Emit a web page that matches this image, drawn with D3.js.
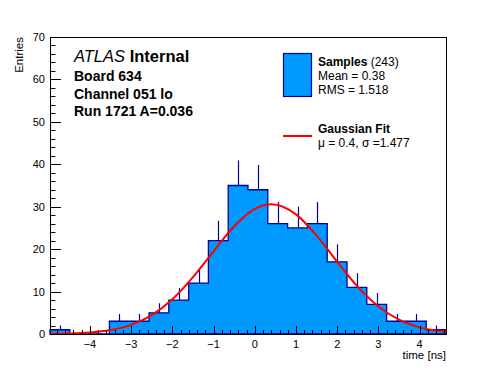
<!DOCTYPE html>
<html>
<head>
<meta charset="utf-8">
<script src="https://d3js.org/d3.v7.min.js"></script>
<style>
  body { margin: 0; background: #fff; }
  svg text { font-family: "Liberation Sans", Arial, Helvetica, sans-serif; }
  .lbl { font-size: 11px; }
  .info { font-size: 14px; font-weight: bold; }
  .leg { font-size: 12px; }
</style>
</head>
<body>
<div id="chart"></div>
<script>
// histogram: 20 bins between histMin and histMax
var histMin = -4.97, histMax = 4.64;
var counts = [1, 0, 0, 3, 3, 5, 8, 12, 22, 35, 34, 26, 25, 26, 17, 11, 7, 3, 3, 1];

// gaussian fit curve
var fitX = [-4.97, -4.5, -4, -3.5, -3, -2.5, -2, -1.5, -1, -0.5, 0, 0.4, 1, 1.5, 2, 2.5, 3, 3.5, 4, 4.64];
var fitY = [0.04, 0.12, 0.36, 0.94, 2.16, 4.45, 8.17, 13.4, 19.5, 25.4, 29.5, 30.6, 28.2, 23.2, 17.0, 11.1, 6.5, 3.38, 1.57, 0.5];

var xTicks = [-4, -3, -2, -1, 0, 1, 2, 3, 4];
var yTicks = [0, 10, 20, 30, 40, 50, 60, 70];

var infoLines = ["Board 634", "Channel 051 lo", "Run 1721 A=0.036"];

var width = 496, height = 372;
var fL = 50, fR = 446, fT = 37, fB = 334;

var svg = d3.select("#chart").append("svg")
  .attr("width", width)
  .attr("height", height);

var x = d3.scaleLinear().domain([histMin, histMax]).range([fL, fR]);
var y = d3.scaleLinear().domain([0, 70]).range([fB, fT]);

var bw = (histMax - histMin) / counts.length;
var bins = counts.map(function(c, i) {
  return { x0: histMin + i * bw, x1: histMin + (i + 1) * bw, n: c };
});

// ---- histogram (ROOT style step outline) ----
var pts = [[x(histMin), y(0)]];
bins.forEach(function(b) {
  pts.push([x(b.x0), y(b.n)]);
  pts.push([x(b.x1), y(b.n)]);
});
pts.push([x(histMax), y(0)]);

svg.append("path")
  .attr("d", d3.line()(pts) + "Z")
  .attr("fill", "#0099ff")
  .attr("stroke", "#000099")
  .attr("stroke-width", 1.3);

// error bars, upper half only
svg.append("g").selectAll("line")
  .data(bins.filter(function(b) { return b.n > 0; }))
  .enter().append("line")
  .attr("x1", function(d) { return Math.round(x((d.x0 + d.x1) / 2)) + 0.5; })
  .attr("x2", function(d) { return Math.round(x((d.x0 + d.x1) / 2)) + 0.5; })
  .attr("y1", function(d) { return y(d.n); })
  .attr("y2", function(d) { return y(d.n + Math.sqrt(d.n)); })
  .attr("stroke", "#000099")
  .attr("stroke-width", 1.2);

// ---- fit ----
var fit = fitX.map(function(v, i) { return [v, fitY[i]]; });
svg.append("path")
  .datum(fit)
  .attr("d", d3.line()
    .x(function(d) { return x(d[0]); })
    .y(function(d) { return y(d[1]); })
    .curve(d3.curveMonotoneX))
  .attr("fill", "none")
  .attr("stroke", "#ff0000")
  .attr("stroke-width", 2);

// ---- frame + axes ----
svg.append("rect")
  .attr("x", fL + 0.5).attr("y", fT + 0.5)
  .attr("width", fR - fL).attr("height", fB - fT)
  .attr("fill", "none").attr("stroke", "#000").attr("stroke-width", 1);

var xMinor = d3.range(-4.8, 4.61, 0.2);
svg.append("g").selectAll("line")
  .data(xMinor)
  .enter().append("line")
  .attr("x1", function(d) { return Math.round(x(d)) + 0.5; })
  .attr("x2", function(d) { return Math.round(x(d)) + 0.5; })
  .attr("y1", fB)
  .attr("y2", function(d) { return Math.abs(d - Math.round(d)) < 1e-6 ? fB - 8 : fB - 4; })
  .attr("stroke", "#000");

svg.append("g").selectAll("text")
  .data(xTicks)
  .enter().append("text")
  .attr("class", "lbl")
  .attr("x", function(d) { return x(d); })
  .attr("y", 347.5)
  .attr("text-anchor", "middle")
  .text(function(d) { return d < 0 ? "\u2212" + (-d) : d; });

var yMinor = d3.range(0, 71, 2);
svg.append("g").selectAll("line")
  .data(yMinor)
  .enter().append("line")
  .attr("y1", function(d) { return Math.round(y(d)) + 0.5; })
  .attr("y2", function(d) { return Math.round(y(d)) + 0.5; })
  .attr("x1", fL)
  .attr("x2", function(d) { return d % 10 === 0 ? fL + 11 : fL + 5.5; })
  .attr("stroke", "#000");

svg.append("g").selectAll("text")
  .data(yTicks)
  .enter().append("text")
  .attr("class", "lbl")
  .attr("x", 45)
  .attr("y", function(d) { return y(d) + 4; })
  .attr("text-anchor", "end")
  .text(function(d) { return d; });

svg.append("text")
  .attr("class", "lbl")
  .attr("text-anchor", "end")
  .attr("transform", "translate(23," + fT + ") rotate(-90)")
  .style("font-size", "11.5px")
  .text("Entries");

svg.append("text")
  .attr("class", "lbl")
  .attr("text-anchor", "end")
  .attr("x", fR).attr("y", 359)
  .style("font-size", "11.5px")
  .text("time [ns]");

// ---- ATLAS label ----
var atl = svg.append("text").attr("x", 74).attr("y", 62).style("font-size", "16.5px");
atl.append("tspan").style("font-style", "italic").text("ATLAS");
atl.append("tspan").style("font-weight", "bold").text(" Internal");

svg.append("g").selectAll("text")
  .data(infoLines)
  .enter().append("text")
  .attr("class", "info")
  .attr("x", 74)
  .attr("y", function(d, i) { return [81, 98.5, 115.5][i]; })
  .text(function(d) { return d; });

// ---- legend ----
svg.append("rect")
  .attr("x", 283.5).attr("y", 53.5).attr("width", 28).attr("height", 43)
  .attr("fill", "#0099ff").attr("stroke", "#000099").attr("stroke-width", 1.2);

var s = svg.append("text").attr("class", "leg").attr("x", 318).attr("y", 65.5);
s.append("tspan").style("font-weight", "bold").text("Samples");
s.append("tspan").text(" (243)");
svg.append("text").attr("class", "leg").attr("x", 318).attr("y", 80).text("Mean = 0.38");
svg.append("text").attr("class", "leg").attr("x", 318).attr("y", 94).text("RMS = 1.518");

svg.append("line")
  .attr("x1", 283).attr("x2", 312).attr("y1", 136).attr("y2", 136)
  .attr("stroke", "#ff0000").attr("stroke-width", 2);
svg.append("text").attr("class", "leg").attr("x", 318).attr("y", 133)
  .style("font-weight", "bold").text("Gaussian Fit");
svg.append("text").attr("class", "leg").attr("x", 318).attr("y", 146.5)
  .text("\u03bc = 0.4, \u03c3 =1.477");
</script>
</body>
</html>
